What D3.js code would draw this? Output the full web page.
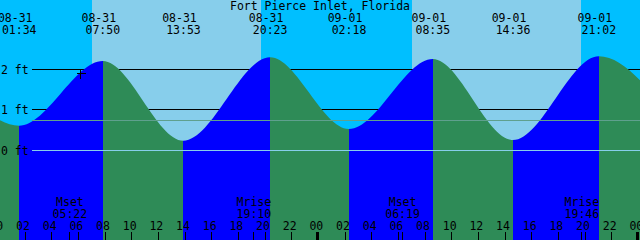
<!DOCTYPE html>
<html>
<head>
<meta charset="utf-8">
<script src="https://cdn.jsdelivr.net/npm/d3@7"></script>
<style>
html,body{margin:0;padding:0;background:#fff;}
svg{display:block;}
text{font-family:"DejaVu Sans Mono",monospace;font-size:11.5px;fill:#000;}
</style>
</head>
<body>
<script>
// ---- data ----
const title = "Fort Pierce Inlet, Florida";
// tide extremes (times MM-DD HH:MM), heights in ft; first and last lie just outside the window
const tideTimes   = ["08-30 19:35","08-31 01:34","08-31 07:50","08-31 13:53","08-31 20:23","09-01 02:18","09-01 08:35","09-01 14:36","09-01 21:02","09-02 03:10"];
const tideHeights = [2.30, 0.61, 2.21, 0.24, 2.30, 0.53, 2.26, 0.26, 2.33, 0.45];
// sunrise / sunset
const sunriseTimes = ["08-31 07:02","09-01 07:02"];
const sunsetTimes  = ["08-31 19:42","09-01 19:42"];
// moon events
const moonNames = ["Mset","Mrise","Mset","Mrise"];
const moonTimes = ["08-31 05:22","08-31 19:10","09-01 06:19","09-01 19:46"];
// height gridlines
const gridLevels = [2, 1];
const gridLabels = ["2 ft","1 ft","0 ft"];
const labelLevels = [2, 1, 0];
const zeroLevel = 0;
const datumLevel = 0.74;
// current-time marker
const nowTime = "08-31 06:07";
const nowHeight = 1.91;
// time window (hours since 08-31 00:00)
const windowStart = "08-31 00:07:30";
const windowEnd   = "09-02 00:07:30";
const hourTicks = d3.range(0, 49, 2);

// ---- helpers ----
const dayOffset = {"08-30": -24, "08-31": 0, "09-01": 24, "09-02": 48};
function hrs(s){
  const [d, t] = s.split(" ");
  const p = t.split(":").map(Number);
  return dayOffset[d] + p[0] + p[1]/60 + (p[2]||0)/3600;
}

const W = 640, H = 240;
const x = d3.scaleLinear().domain([hrs(windowStart), hrs(windowEnd)]).range([0, W]);
const y = d3.scaleLinear().domain([0, 2]).range([150.5, 69.5]);
const rowY = v => Math.ceil(y(v)) - 0.5;

const svg = d3.select("body").append("svg").attr("width", W).attr("height", H);

const NIGHT = "#00BFFF", DAY = "#87CEEB", RISE = "#0000FF", FALL = "#2E8B57";

// sky
svg.append("rect").attr("width", W).attr("height", H).attr("fill", NIGHT);
svg.selectAll("rect.day").data(sunriseTimes).enter().append("rect")
  .attr("class","day")
  .attr("x", (d,i) => Math.round(x(hrs(d))))
  .attr("width", (d,i) => Math.round(x(hrs(sunsetTimes[i]))) - Math.round(x(hrs(d))))
  .attr("y", 0).attr("height", H).attr("fill", DAY);

// black grid lines (behind water)
svg.selectAll("line.grid").data(gridLevels).enter().append("line")
  .attr("x1", 32).attr("x2", W)
  .attr("y1", d => rowY(d)).attr("y2", d => rowY(d))
  .attr("stroke", "#000").attr("stroke-width", 1).attr("shape-rendering","crispEdges");

// water
const pts = tideTimes.map((t,i) => [hrs(t), tideHeights[i]]);
const area = d3.area().x(d => x(d[0])).y0(H).y1(d => y(d[1])).curve(d3.curveMonotoneX);
svg.append("clipPath").attr("id","water").append("path").attr("d", area(pts));
const segs = d3.pairs(pts);
svg.append("g").attr("clip-path","url(#water)")
  .selectAll("rect").data(segs).enter().append("rect")
  .attr("x", d => Math.round(x(d[0][0])))
  .attr("width", d => Math.round(x(d[1][0])) - Math.round(x(d[0][0])))
  .attr("y", 0).attr("height", H)
  .attr("fill", d => d[1][1] > d[0][1] ? RISE : FALL);

// zero line & datum line (on top)
svg.append("line").attr("x1", 32).attr("x2", W)
  .attr("y1", rowY(zeroLevel)).attr("y2", rowY(zeroLevel))
  .attr("stroke", "#87CEEB").attr("shape-rendering","crispEdges");
svg.append("line").attr("x1", 32).attr("x2", W)
  .attr("y1", rowY(datumLevel)).attr("y2", rowY(datumLevel))
  .attr("stroke", "#5FA08E").attr("shape-rendering","crispEdges");

// height labels
svg.selectAll("text.hl").data(labelLevels).enter().append("text")
  .attr("x", 1).attr("y", d => rowY(d) + 4).text((d,i) => gridLabels[i]);

// title
svg.append("text").attr("x", W/2).attr("y", 10).attr("text-anchor","middle").text(title);

// extreme labels at top
const inWin = pts.map((p,i) => ({t: p[0], s: tideTimes[i]})).filter(d => d.t >= x.domain()[0] && d.t <= x.domain()[1]);
const topG = svg.append("g");
topG.selectAll("text.date").data(inWin).enter().append("text")
  .attr("x", d => x(d.t) - 4).attr("y", 22).attr("text-anchor","middle")
  .text(d => d.s.split(" ")[0]);
topG.selectAll("text.time").data(inWin).enter().append("text")
  .attr("x", d => x(d.t)).attr("y", 34).attr("text-anchor","middle")
  .text(d => d.s.split(" ")[1]);

// moon labels
const moonG = svg.append("g");
moonG.selectAll("text.mn").data(moonTimes).enter().append("text")
  .attr("x", d => x(hrs(d))).attr("y", 206).attr("text-anchor","middle")
  .text((d,i) => moonNames[i]);
moonG.selectAll("text.mt").data(moonTimes).enter().append("text")
  .attr("x", d => x(hrs(d))).attr("y", 218).attr("text-anchor","middle")
  .text(d => d.split(" ")[1]);
moonG.selectAll("line").data(moonTimes).enter().append("line")
  .attr("x1", d => Math.floor(x(hrs(d))) + 0.5).attr("x2", d => Math.floor(x(hrs(d))) + 0.5)
  .attr("y1", 232).attr("y2", H).attr("stroke","#000").attr("shape-rendering","crispEdges");

// hour axis
const axisG = svg.append("g");
axisG.selectAll("text").data(hourTicks).enter().append("text")
  .attr("x", d => x(d) - 2).attr("y", 229.5).attr("text-anchor","middle")
  .text(d => d3.format("02d")(d % 24));
axisG.selectAll("rect").data(hourTicks).enter().append("rect")
  .attr("x", d => d % 24 === 0 ? Math.round(x(d)) - 2 : Math.floor(x(d)))
  .attr("width", d => d % 24 === 0 ? 3 : 1)
  .attr("y", 232).attr("height", H - 232).attr("fill","#000");

// now marker
const nx = Math.round(x(hrs(nowTime))) + 0.5, ny = Math.round(y(nowHeight)) + 0.5;
svg.append("path").attr("d", `M${nx-4},${ny}H${nx+5}M${nx},${ny-4}V${ny+5}`)
  .attr("stroke","#000").attr("fill","none").attr("shape-rendering","crispEdges");
</script>
</body>
</html>
